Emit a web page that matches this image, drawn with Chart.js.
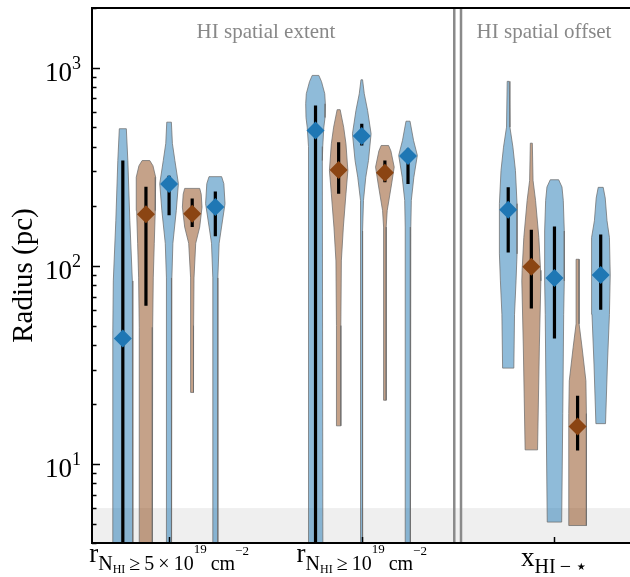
<!DOCTYPE html>
<html>
<head>
<meta charset="utf-8">
<script src="https://cdn.jsdelivr.net/npm/chart.js@4.4.1/dist/chart.umd.min.js"></script>
<style>
  body { margin: 0; background: #fff; }
  canvas { display: block; }
</style>
</head>
<body>
<canvas id="chart" width="630" height="577"></canvas>
<script>
// Data (radius in pc)
const panelTitles = ['HI spatial extent', 'HI spatial offset'];
const yTickValues = [10, 100, 1000];
const yTickExponents = ['1', '2', '3'];
const violinKinds = ['blue', 'brown', 'blue', 'brown', 'blue'];

const medians = [
  [43, 182, 259, 183, 198],
  [482, 305, 452, 295, 358],
  [192, 99, 87, 15.5, 90]
];
const errLow = [
  [1, 63, 180, 157, 141],
  [1, 231, 405, 264, 259],
  [117, 61, 43, 11.7, 60]
];
const errHigh = [
  [340, 251, 285, 219, 237],
  [645, 421, 521, 340, 390],
  [249, 152, 158, 22.1, 144]
];

// violin outlines: radius values (top to bottom) and relative half widths
const violinRadii = [
  [
    [492, 340, 169, 84, 47, 1],
    [340, 320, 280, 190, 130, 87, 49, 1],
    [531, 415, 340, 260, 190, 130, 87, 49, 1],
    [246, 230, 198, 157, 130, 87, 50, 23],
    [282, 260, 206, 157, 130, 87, 1]
  ],
  [
    [914, 850, 739, 658, 560, 501, 400, 340, 1],
    [614, 501, 413, 303, 231, 157, 106, 50, 15.6],
    [869, 739, 609, 464, 340, 280, 214, 150, 1],
    [405, 380, 315, 259, 190, 157, 21],
    [537, 430, 361, 280, 214, 157, 1]
  ],
  [
    [853, 501, 397, 303, 206, 115, 84, 57, 30.5],
    [416, 270, 214, 139, 95, 84, 39, 11.8],
    [272, 250, 214, 150, 84, 57, 18, 5.1],
    [108, 51, 38.6, 26.3, 18, 4.9],
    [249, 220, 169, 139, 90, 57, 32, 16]
  ]
];
const violinWidths = [
  [
    [0.35, 0.5, 0.7, 0.95, 1.0, 1.0],
    [0.38, 0.7, 0.97, 0.93, 0.83, 0.73, 0.67, 0.63],
    [0.23, 0.33, 0.58, 0.93, 0.72, 0.38, 0.28, 0.25, 0.23],
    [0.75, 0.9, 0.98, 0.75, 0.35, 0.18, 0.14, 0.13],
    [0.63, 0.85, 0.97, 0.62, 0.38, 0.25, 0.25]
  ],
  [
    [0.33, 0.6, 0.92, 0.98, 0.95, 0.83, 0.72, 0.68, 0.75],
    [0.15, 0.5, 0.73, 0.92, 0.73, 0.47, 0.27, 0.22, 0.22],
    [0.08, 0.25, 0.58, 0.93, 0.67, 0.4, 0.17, 0.08, 0.08],
    [0.37, 0.6, 0.93, 0.67, 0.23, 0.13, 0.13],
    [0.2, 0.55, 0.93, 0.58, 0.33, 0.28, 0.23]
  ],
  [
    [0.1, 0.17, 0.47, 0.72, 0.88, 0.88, 0.78, 0.63, 0.56],
    [0.1, 0.17, 0.42, 0.75, 0.92, 0.95, 0.8, 0.62],
    [0.42, 0.75, 0.88, 0.98, 0.98, 0.92, 0.83, 0.72],
    [0.15, 0.15, 0.45, 0.83, 0.88, 0.88],
    [0.25, 0.45, 0.63, 0.87, 0.95, 0.87, 0.67, 0.48]
  ]
];

// styling
const SERIF = "'Liberation Serif', 'DejaVu Serif', serif";
const SLOT = 0.12;
const HALF_WIDTH = 0.052;
const COLORS = {
  blue: { fill: 'rgba(31,119,180,0.5)', mark: '#1f77b4' },
  brown: { fill: 'rgba(139,69,19,0.5)', mark: '#8b4513' }
};
const SEPARATORS = [1.48, 1.515];
const SHADE_MAX = 6;

// x-axis labels as runs of [text, font size, baseline shift]
const xLabelRuns = [
  [['r', 27, 0], ['N', 20, 8], ['HI', 12, 10.5], ['\u2009\u2265\u20095\u2009\u00d7\u200910', 20, 8], ['19', 13, -9], ['\u2009cm', 20, 8], ['\u22122', 13, -7]],
  [['r', 27, 0], ['N', 20, 8], ['HI', 12, 10.5], ['\u2009\u2265\u200910', 20, 8], ['19', 13, -9], ['\u2009cm', 20, 8], ['\u22122', 13, -7]],
  [['x', 27, 4], ['HI\u2009\u2212\u2009\u22c6', 20, 11]]
];

function slotX(g, k) {
  return g + (k - 2) * SLOT;
}

function buildDatasets() {
  const marks = [];
  const bars = [];
  const violins = [];
  const diamonds = { blue: [], brown: [] };

  medians.forEach((row, g) => {
    row.forEach((m, k) => {
      const cx = slotX(g, k);
      const kind = violinKinds[k];
      diamonds[kind].push({ x: cx, y: m });

      bars.push({
        data: [{ x: cx, y: errHigh[g][k] }, { x: cx, y: errLow[g][k] }],
        showLine: true,
        borderColor: '#000',
        borderWidth: 3.2,
        pointRadius: 0,
        order: 2
      });

      const radii = violinRadii[g][k];
      const widths = violinWidths[g][k];
      const right = radii.map((r, i) => ({ x: cx + widths[i] * HALF_WIDTH, y: r }));
      const left = radii.map((r, i) => ({ x: cx - widths[i] * HALF_WIDTH, y: r })).reverse();
      violins.push({
        data: right.concat(left, [right[0]]),
        showLine: true,
        fill: 'shape',
        backgroundColor: COLORS[kind].fill,
        borderColor: 'rgba(110,110,110,0.75)',
        borderWidth: 1,
        pointRadius: 0,
        tension: 0,
        order: 3
      });
    });
  });

  ['blue', 'brown'].forEach(kind => {
    marks.push({
      data: diamonds[kind],
      pointStyle: 'rectRot',
      pointRadius: 9,
      pointBorderWidth: 0,
      backgroundColor: COLORS[kind].mark,
      borderColor: COLORS[kind].mark,
      order: 1
    });
  });

  return marks.concat(bars, violins);
}

function drawRuns(ctx, runs, cx, baseline) {
  let total = 0;
  const sized = runs.map(([text, size, dy]) => {
    ctx.font = size + 'px ' + SERIF;
    const w = ctx.measureText(text).width;
    total += w;
    return { text, size, dy, w };
  });
  let x = cx - total / 2;
  ctx.textAlign = 'left';
  ctx.textBaseline = 'alphabetic';
  sized.forEach(r => {
    ctx.font = r.size + 'px ' + SERIF;
    ctx.fillText(r.text, x, baseline + r.dy);
    x += r.w;
  });
}

const backdrop = {
  id: 'backdrop',
  beforeDatasetsDraw(chart) {
    const { ctx, chartArea: a, scales: { y } } = chart;
    const top = y.getPixelForValue(SHADE_MAX);
    ctx.save();
    ctx.fillStyle = '#efefef';
    ctx.fillRect(a.left, top, a.right - a.left, a.bottom - top);
    ctx.restore();
  }
};

const frame = {
  id: 'frame',
  afterDatasetsDraw(chart) {
    const { ctx, chartArea: a, scales: { x, y } } = chart;
    ctx.save();

    // panel separators
    ctx.strokeStyle = '#8a8a8a';
    ctx.lineWidth = 2.5;
    SEPARATORS.forEach(v => {
      const px = x.getPixelForValue(v);
      ctx.beginPath();
      ctx.moveTo(px, a.top);
      ctx.lineTo(px, a.bottom);
      ctx.stroke();
    });

    // inward ticks
    ctx.strokeStyle = '#000';
    ctx.lineWidth = 1.5;
    for (let d = 1; d <= 1000; d *= 10) {
      for (let m = 1; m <= 9; m++) {
        const v = d * m;
        if (v < y.min || v > y.max) continue;
        const py = Math.round(y.getPixelForValue(v)) + 0.5;
        ctx.beginPath();
        ctx.moveTo(a.left, py);
        ctx.lineTo(a.left + (m === 1 ? 8 : 4.5), py);
        ctx.stroke();
      }
    }
    [0, 1, 2].forEach(g => {
      const px = Math.round(x.getPixelForValue(g)) + 0.5;
      ctx.beginPath();
      ctx.moveTo(px, a.bottom);
      ctx.lineTo(px, a.bottom - 6);
      ctx.stroke();
    });

    // frame
    ctx.lineWidth = 2;
    ctx.beginPath();
    ctx.moveTo(a.right + 2, a.top);
    ctx.lineTo(a.left, a.top);
    ctx.lineTo(a.left, a.bottom);
    ctx.lineTo(a.right + 2, a.bottom);
    ctx.stroke();

    // y tick labels
    ctx.fillStyle = '#000';
    ctx.textBaseline = 'alphabetic';
    ctx.textAlign = 'right';
    yTickValues.forEach((v, i) => {
      const py = y.getPixelForValue(v);
      ctx.font = '18px ' + SERIF;
      const supW = ctx.measureText(yTickExponents[i]).width;
      ctx.fillText(yTickExponents[i], a.left - 11, py + 1);
      ctx.font = '27px ' + SERIF;
      ctx.fillText('10', a.left - 11 - supW, py + 13);
    });

    // y title
    ctx.save();
    ctx.translate(32, (a.top + a.bottom) / 2);
    ctx.rotate(-Math.PI / 2);
    ctx.textAlign = 'center';
    ctx.font = '29px ' + SERIF;
    ctx.fillText('Radius (pc)', 0, 0);
    ctx.restore();

    // x labels
    xLabelRuns.forEach((runs, g) => drawRuns(ctx, runs, x.getPixelForValue(g), 562));

    // panel titles
    ctx.fillStyle = '#888';
    ctx.textAlign = 'center';
    ctx.font = '21px ' + SERIF;
    ctx.fillText(panelTitles[0], 266, 38);
    ctx.fillText(panelTitles[1], 544, 38);
    ctx.restore();
  }
};

const chart = new Chart(document.getElementById('chart'), {
  type: 'scatter',
  data: { datasets: buildDatasets() },
  options: {
    responsive: false,
    animation: false,
    events: [],
    layout: { autoPadding: false, padding: { left: 92, top: 8, right: 0, bottom: 34 } },
    plugins: { legend: { display: false }, tooltip: { enabled: false } },
    scales: {
      x: { type: 'linear', display: false, min: -0.4, max: 2.392 },
      y: { type: 'logarithmic', display: false, min: 4, max: 2000 }
    }
  },
  plugins: [backdrop, frame]
});
</script>
</body>
</html>
